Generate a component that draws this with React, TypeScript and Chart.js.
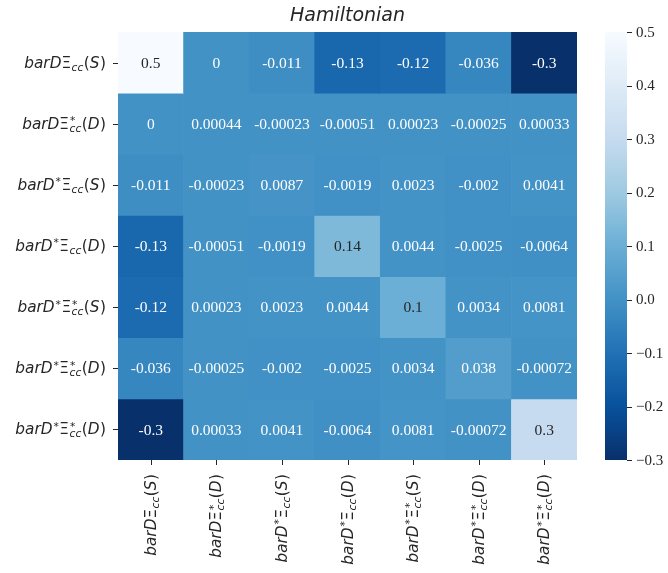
import React, { useEffect, useRef } from "react";
import { Chart, registerables } from "chart.js";

Chart.register(...registerables);

const chartTitle = "Hamiltonian";
const categories = [
  "barDΞ_cc(S)",
  "barDΞ*_cc(D)",
  "barD*Ξ_cc(S)",
  "barD*Ξ_cc(D)",
  "barD*Ξ*_cc(S)",
  "barD*Ξ*_cc(D)",
  "barD*Ξ*_cc(D)",
];
const row0 = [0.5, 0, -0.011, -0.13, -0.12, -0.036, -0.3];
const row1 = [0, 0.00044, -0.00023, -0.00051, 0.00023, -0.00025, 0.00033];
const row2 = [-0.011, -0.00023, 0.0087, -0.0019, 0.0023, -0.002, 0.0041];
const row3 = [-0.13, -0.00051, -0.0019, 0.14, 0.0044, -0.0025, -0.0064];
const row4 = [-0.12, 0.00023, 0.0023, 0.0044, 0.1, 0.0034, 0.0081];
const row5 = [-0.036, -0.00025, -0.002, -0.0025, 0.0034, 0.038, -0.00072];
const row6 = [-0.3, 0.00033, 0.0041, -0.0064, 0.0081, -0.00072, 0.3];
const matrix = [row0, row1, row2, row3, row4, row5, row6];

const colorbarMin = -0.3;
const colorbarMax = 0.5;
const colorbarStep = 0.1;
const bluesStops = ["#f7fbff", "#deebf7", "#c6dbef", "#9ecae1", "#6baed6", "#4292c6", "#2171b5", "#08519c", "#08306b"];

function hexToRgb(h: string): number[] {
  const n = parseInt(h.slice(1), 16);
  return [(n >> 16) & 255, (n >> 8) & 255, n & 255];
}
const stopRgb = bluesStops.map(hexToRgb);

function bluesR(v: number): number[] {
  let t = (v - colorbarMin) / (colorbarMax - colorbarMin);
  t = Math.max(0, Math.min(1, t));
  const s = (1 - t) * (stopRgb.length - 1);
  const i = Math.min(stopRgb.length - 2, Math.floor(s));
  const f = s - i;
  const a = stopRgb[i], b = stopRgb[i + 1];
  return [0, 1, 2].map((k) => a[k] + (b[k] - a[k]) * f);
}
function rgbStr(c: number[]) {
  return `rgb(${Math.round(c[0])},${Math.round(c[1])},${Math.round(c[2])})`;
}
function luminance(c: number[]) {
  const lin = c.map((x) => {
    const v = x / 255;
    return v <= 0.03928 ? v / 12.92 : Math.pow((v + 0.055) / 1.055, 2.4);
  });
  return 0.2126 * lin[0] + 0.7152 * lin[1] + 0.0722 * lin[2];
}

type Piece = { text: string; font: string; x: number; dy: number };

const MATH_FAMILY = "'DejaVu Sans'";
function layoutLabel(ctx: CanvasRenderingContext2D, label: string, S: number) {
  const m = /^barD(\*?)Ξ(\*?)_cc\((S|D)\)$/.exec(label);
  const it = `italic ${S}px ${MATH_FAMILY}`;
  const rm = `${S}px ${MATH_FAMILY}`;
  const itS = `italic ${S * 0.7}px ${MATH_FAMILY}`;
  const rmS = `${S * 0.7}px ${MATH_FAMILY}`;
  const pieces: Piece[] = [];
  let x = 0;
  const w = (t: string, f: string) => {
    ctx.font = f;
    return ctx.measureText(t).width;
  };
  if (!m) {
    pieces.push({ text: label, font: it, x: 0, dy: 0 });
    return { pieces, width: w(label, it) };
  }
  const dStar = m[1] === "*";
  const xiStar = m[2] === "*";
  const state = m[3];
  pieces.push({ text: "barD", font: it, x, dy: 0 });
  x += w("barD", it);
  if (dStar) {
    x += 1;
    pieces.push({ text: "*", font: rmS, x, dy: -0.3 * S });
    x += w("*", rmS) + 0.5;
  }
  pieces.push({ text: "Ξ", font: rm, x, dy: 0 });
  x += w("Ξ", rm) + 0.5;
  const subW = w("cc", itS);
  pieces.push({ text: "cc", font: itS, x, dy: 0.2 * S });
  let grpW = subW;
  if (xiStar) {
    pieces.push({ text: "*", font: rmS, x: x + 0.5, dy: -0.3 * S });
    grpW = Math.max(subW, w("*", rmS) + 0.5);
  }
  x += grpW + 0.5;
  pieces.push({ text: "(", font: rm, x, dy: 0 });
  x += w("(", rm);
  pieces.push({ text: state, font: it, x, dy: 0 });
  x += w(state, it) + 0.5;
  pieces.push({ text: ")", font: rm, x, dy: 0 });
  x += w(")", rm);
  return { pieces, width: x };
}

function drawLabel(ctx: CanvasRenderingContext2D, label: string, S: number, xEnd: number, baseline: number) {
  const { pieces, width } = layoutLabel(ctx, label, S);
  const x0 = xEnd - width;
  ctx.textAlign = "left";
  ctx.textBaseline = "alphabetic";
  for (const p of pieces) {
    ctx.font = p.font;
    ctx.fillText(p.text, x0 + p.x, baseline + p.dy);
  }
}

const LABEL_SIZE = 15.3;
const TICK_LEN = 5;
const TICK_COLOR = "#262626";

const heatmapDecor = {
  id: "heatmapDecor",
  afterDatasetsDraw(chart: any) {
    const ctx: CanvasRenderingContext2D = chart.ctx;
    const area = chart.chartArea;
    const xs = chart.scales.x;
    const ys = chart.scales.y;
    const cb = chart.scales.cb;
    ctx.save();

    // annotations
    chart.data.datasets.forEach((_ds: any, r: number) => {
      const meta = chart.getDatasetMeta(r);
      meta.data.forEach((el: any, c: number) => {
        const v = matrix[r][c];
        const col = bluesR(v);
        const p = el.getCenterPoint();
        ctx.font = "15.5px 'Liberation Serif'";
        ctx.textAlign = "center";
        ctx.textBaseline = "middle";
        ctx.fillStyle = luminance(col) > 0.36 ? "#262626" : "#ffffff";
        ctx.fillText(String(v), p.x, p.y + 1);
      });
    });

    ctx.strokeStyle = TICK_COLOR;
    ctx.fillStyle = TICK_COLOR;
    ctx.lineWidth = 1;

    // y tick marks and labels
    categories.forEach((lab, r) => {
      const y = ys.getPixelForValue(r + 0.5);
      ctx.beginPath();
      ctx.moveTo(area.left - TICK_LEN, Math.round(y) + 0.5);
      ctx.lineTo(area.left, Math.round(y) + 0.5);
      ctx.stroke();
      drawLabel(ctx, lab, LABEL_SIZE, area.left - TICK_LEN - 7, y + 5);
    });

    // x tick marks and rotated labels
    categories.forEach((lab, c) => {
      const x = xs.getPixelForValue(c);
      ctx.beginPath();
      ctx.moveTo(Math.round(x) + 0.5, area.bottom);
      ctx.lineTo(Math.round(x) + 0.5, area.bottom + TICK_LEN);
      ctx.stroke();
      ctx.save();
      ctx.translate(x + 5, area.bottom + TICK_LEN + 9);
      ctx.rotate(-Math.PI / 2);
      drawLabel(ctx, lab, LABEL_SIZE, 0, 0);
      ctx.restore();
    });

    // colorbar
    const cbLeft = area.right + 28;
    const cbWidth = 22;
    const top = cb.getPixelForValue(colorbarMax);
    const bottom = cb.getPixelForValue(colorbarMin);
    const grad = ctx.createLinearGradient(0, bottom, 0, top);
    const n = bluesStops.length;
    for (let i = 0; i < n; i++) {
      grad.addColorStop(i / (n - 1), bluesStops[n - 1 - i]);
    }
    ctx.fillStyle = grad;
    ctx.fillRect(cbLeft, top, cbWidth, bottom - top);

    ctx.strokeStyle = TICK_COLOR;
    ctx.fillStyle = TICK_COLOR;
    ctx.font = "15px 'Liberation Serif'";
    ctx.textAlign = "left";
    ctx.textBaseline = "middle";
    cb.ticks.forEach((t: any) => {
      const y = cb.getPixelForValue(t.value);
      ctx.beginPath();
      ctx.moveTo(cbLeft + cbWidth, Math.round(y) + 0.5);
      ctx.lineTo(cbLeft + cbWidth + TICK_LEN, Math.round(y) + 0.5);
      ctx.stroke();
      const txt = t.value < -1e-9 ? "\u2212" + Math.abs(t.value).toFixed(1) : Math.abs(t.value).toFixed(1);
      ctx.fillText(txt, cbLeft + cbWidth + TICK_LEN + 4, y + 1);
    });

    ctx.restore();
  },
};

export default function App() {
  const ref = useRef<HTMLCanvasElement | null>(null);
  useEffect(() => {
    if (!ref.current) return;
    const datasets = matrix.map((row, r) => ({
      label: categories[r],
      data: row.map((v, c) => ({ x: c, y: [r, r + 1], v })),
      backgroundColor: row.map((v) => rgbStr(bluesR(v))),
      borderWidth: 0,
      barPercentage: 1,
      categoryPercentage: 1,
      grouped: false,
    }));
    const chart = new Chart(ref.current, {
      type: "bar",
      data: { labels: categories, datasets: datasets as any },
      options: {
        animation: false,
        responsive: true,
        maintainAspectRatio: false,
        events: [],
        layout: { padding: { left: 118, right: 91, top: 0, bottom: 113 } },
        plugins: {
          legend: { display: false },
          tooltip: { enabled: false },
          title: {
            display: true,
            text: chartTitle,
            fullSize: false,
            color: "#262626",
            font: { family: "'DejaVu Sans'", size: 19, style: "italic", weight: "normal" },
            padding: { top: 5, bottom: 4.2 },
          },
        },
        scales: {
          x: { type: "category", display: false, offset: true, grid: { display: false } },
          y: { type: "linear", min: 0, max: 7, reverse: true, display: false },
          cb: {
            type: "linear",
            position: "right",
            min: colorbarMin,
            max: colorbarMax,
            display: false,
            ticks: { stepSize: colorbarStep },
          },
        },
      } as any,
      plugins: [heatmapDecor],
    });
    return () => chart.destroy();
  }, []);
  return (
    <div style={{ position: "fixed", left: 0, top: 0, width: 668, height: 573, background: "#fff" }}>
      <canvas ref={ref} />
    </div>
  );
}
